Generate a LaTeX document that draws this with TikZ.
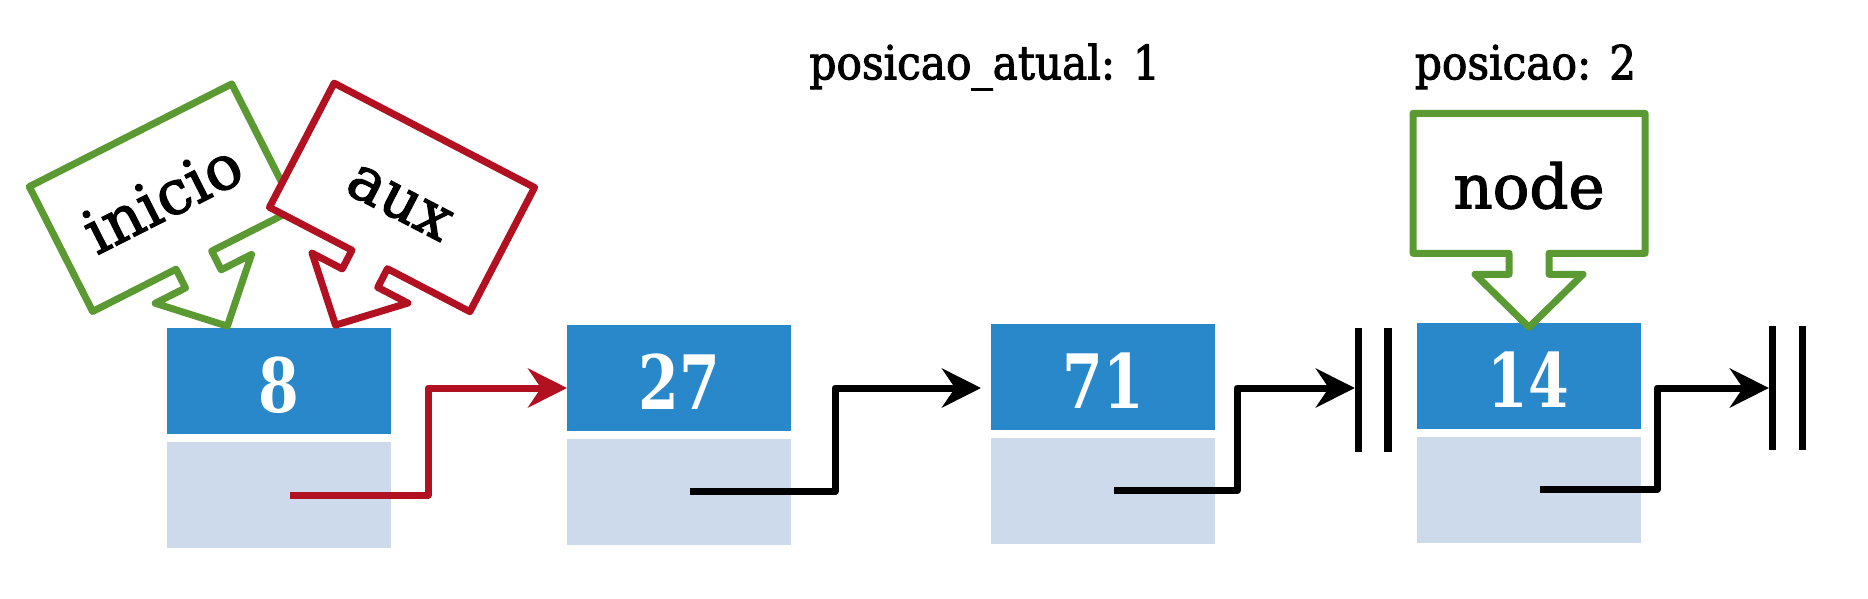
\documentclass[tikz,border=0pt]{standalone}
\usepackage{fontspec}
\setmainfont{DejaVu Serif}
\newfontfamily\labelfont[FakeStretch=0.9,FakeBold=2]{DejaVu Serif}
\newfontfamily\calloutfont[FakeBold=2]{DejaVu Serif}
\newfontfamily\digitfont[FakeStretch=0.78]{DejaVu Serif}
\usetikzlibrary{arrows.meta,calc}
\definecolor{nblue}{RGB}{41,136,202}
\definecolor{nlight}{RGB}{205,218,236}
\definecolor{cred}{RGB}{178,17,34}
\definecolor{cgreen}{RGB}{91,154,51}
\tikzset{
  toprect/.style={fill=nblue, minimum width=224pt, minimum height=106pt, inner sep=0pt, outer sep=0pt},
  botrect/.style={fill=nlight, minimum width=224pt, minimum height=106pt, inner sep=0pt, outer sep=0pt},
  digit/.style={text=white, font=\digitfont\bfseries\fontsize{75}{80}\selectfont, inner sep=0pt},
  link/.style={line width=7pt, line join=round, -{Stealth[length=39pt,width=39pt,inset=13pt]}},
  nullbar/.style={line width=7.3pt},
  cbox/.style={line width=7pt, line join=round, fill=white},
  ctext/.style={font=\calloutfont\fontsize{61}{70}\selectfont, anchor=base, inner sep=0pt},
  toplabel/.style={font=\labelfont\fontsize{47}{56}\selectfont, anchor=base, inner sep=0pt},
}
% #1 centre, #2 angle, #3 half width, #4 colour, #5 text, #6 name, #7 baseline offset
\newcommand\mycallout[7]{%
  \begin{scope}[shift={#1}, rotate=#2]
    \draw[cbox, draw=#4] (-#3,-70) -- (#3,-70) -- (#3,70) -- (20,70) -- (20,91) -- (54,91)
      -- (0,144) -- (-54,91) -- (-20,91) -- (-20,70) -- (-#3,70) -- cycle;
    \node[ctext, transform shape] (#6) at (0,#7) {#5};
  \end{scope}}
\begin{document}
\begin{tikzpicture}[x=1pt, y=-1pt]
  \fill[white] (0,0) rectangle (1868,598);
  \useasboundingbox (0,0) rectangle (1868,598);

  % list nodes
  \node[toprect] (n1t) at (279,381) {};
  \node[botrect] (n1b) at (279,495) {};
  \node[toprect] (n2t) at (679,377.5) {};
  \node[botrect] (n2b) at (679,491.5) {};
  \node[toprect] (n3t) at (1103,376.5) {};
  \node[botrect] (n3b) at (1103,490.5) {};
  \node[toprect] (n4t) at (1528.5,375.5) {};
  \node[botrect] (n4b) at (1528.5,489.5) {};

  \node[digit] (d1) at ($(n1t.center)+(0,4)$) {8};
  \node[digit] (d2) at ($(n2t.center)+(0,4)$) {27};
  \node[digit] (d3) at ($(n3t.center)+(0,4)$) {71};
  \node[digit] (d4) at ($(n4t.center)+(0,4)$) {14};

  % null markers
  \coordinate (z1) at (1358.4,388);
  \coordinate (z2) at (1772.5,388);
  \draw[nullbar] ($(z1)+(0,-60)$) -- ($(z1)+(0,64.3)$);
  \draw[nullbar] ($(z1)+(29.6,-60)$) -- ($(z1)+(29.6,64.3)$);
  \draw[nullbar] ($(z2)+(0,-62)$) -- ($(z2)+(0,62)$);
  \draw[nullbar] ($(z2)+(29.9,-62)$) -- ($(z2)+(29.9,62)$);

  % links
  \draw[link, draw=cred] ([xshift=11pt]n1b.center) -- ++(138,0) |- ($(n2t.west)+(0,10.5)$);
  \draw[link] ([xshift=11pt]n2b.center) -- ++(145,0) |- ($(n3t.west)+(-10,11.5)$);
  \draw[link] ([xshift=11pt]n3b.center) -- ++(123,0) |- ($(z1)+(-3.6,0)$);
  \draw[link] ([xshift=11.5pt]n4b.center) -- ++(117,0) |- ($(z2)+(-3.6,0)$);

  % labels
  \node[toplabel] (lbl1) at (984.7,79.3) {posicao\_atual: 1};
  \node[toplabel] (lbl2) at (1525.5,79.3) {posicao: 2};

  % callouts
  \mycallout{(162.2,197.7)}{26.9}{113.5}{cgreen}{inicio}{tinicio}{22}
  \mycallout{(402,197.4)}{-27.5}{113}{cred}{aux}{taux}{22}
  \mycallout{(1529,183.3)}{0}{116}{cgreen}{node}{tnode}{25}
\end{tikzpicture}
\end{document}
